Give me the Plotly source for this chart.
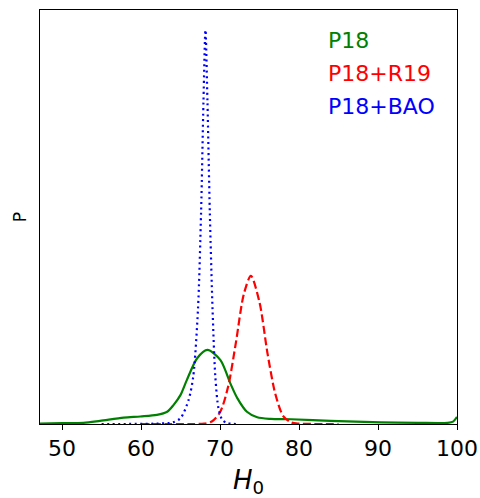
import plotly.graph_objects as go

# H0 grid values and normalised posterior heights
p18_h0 = [47.2, 50.0, 52.7, 54.8, 57.8, 59.9, 62.0, 63.3, 64.1, 65.0, 65.8, 67.1, 68.4,
          70.05, 71.3, 72.2, 73.4, 74.7, 76.4, 79.0, 84.0, 90.4, 95.0, 98.8, 99.5, 100.0]
p18_p = [0.001, 0.002, 0.003, 0.008, 0.016, 0.019, 0.023, 0.031, 0.048, 0.074, 0.112, 0.167, 0.188,
         0.162, 0.103, 0.065, 0.031, 0.017, 0.013, 0.012, 0.008, 0.004, 0.003, 0.003, 0.006, 0.018]

r19_h0 = [60.0, 66.0, 68.0, 69.0, 70.0, 71.0, 72.0, 73.0, 73.9, 75.0, 76.0, 77.0, 78.0, 79.0, 80.0, 85.0]
r19_p = [0.0, 0.0, 0.001, 0.007, 0.030, 0.093, 0.206, 0.329, 0.376, 0.308, 0.180, 0.076, 0.020, 0.004, 0.001, 0.0]

bao_h0 = [55.0, 62.0, 64.0, 65.0, 66.0, 66.6, 67.2, 67.6, 67.9, 68.15, 68.4, 68.7, 69.05,
          69.4, 69.8, 70.3, 71.0, 72.0]
bao_p = [0.0, 0.001, 0.004, 0.015, 0.06, 0.12, 0.29, 0.54, 0.82, 1.0, 0.82, 0.54, 0.29,
         0.12, 0.04, 0.01, 0.002, 0.0]

names = ["P18", "P18+R19", "P18+BAO"]
colors = ["green", "red", "blue"]
dashes = ["solid", "8px,3.5px", "2px,3.5px"]

fig = go.Figure()
for xs, ys, nm, c, d in zip([p18_h0, r19_h0, bao_h0], [p18_p, r19_p, bao_p], names, colors, dashes):
    fig.add_trace(go.Scatter(x=xs, y=ys, name=nm, mode="lines",
                             line=dict(color=c, width=2.2, dash=d, shape="spline", smoothing=0.8),
                             showlegend=False))

for i, (nm, c) in enumerate(zip(names, colors)):
    fig.add_annotation(text=nm, xref="paper", yref="paper", x=(326 - 40) / 417, y=(424 - 40 - 33 * i) / 414,
                       xanchor="left", yanchor="middle", showarrow=False,
                       font=dict(color=c, size=22, family="DejaVu Sans"))

fig.update_layout(
    width=480, height=498,
    margin=dict(l=40, r=23, t=10, b=74, autoexpand=False),
    plot_bgcolor="white", paper_bgcolor="white",
    font=dict(family="DejaVu Sans", color="black"),
)
fig.update_xaxes(range=[47.2, 100], tickvals=[50, 60, 70, 80, 90, 100],
                 ticks="outside", ticklen=5, tickwidth=1, tickcolor="black",
                 showline=True, linecolor="black", linewidth=1, mirror=True,
                 showgrid=False, zeroline=False, tickfont=dict(size=22), automargin=False,
                 title=dict(text="<i>H</i><sub>0</sub>", font=dict(size=26), standoff=15))
fig.update_yaxes(range=[0, 1.0508], showticklabels=False, ticks="",
                 showline=True, linecolor="black", linewidth=1, mirror=True,
                 showgrid=False, zeroline=False, automargin=False,
                 title=dict(text="P", font=dict(size=17), standoff=8))

fig.write_html("out.html", config={"displayModeBar": False},
               post_script="document.body.style.margin='0';")
